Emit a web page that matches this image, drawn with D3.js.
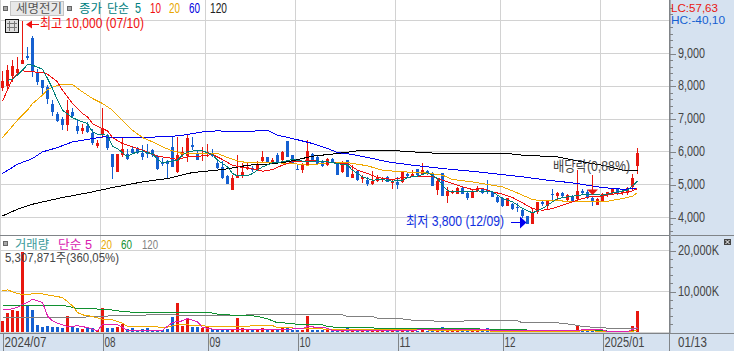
<!DOCTYPE html>
<html><head><meta charset="utf-8">
<script src="https://cdn.jsdelivr.net/npm/d3@7/dist/d3.min.js"></script>
<style>
html,body{margin:0;padding:0;background:#fff}
svg{display:block}
text{font-family:"Liberation Sans","Noto Sans CJK KR",sans-serif;font-size:14px}
</style></head><body>
<svg id="c" width="734" height="351"></svg>
<script>
const opens=[7960,8030,8310,8410,8690,8920,9480,8440,8190,7980,7450,7170,6990,6810,7220,6790,6660,6790,6580,6180,6530,6510,5930,5390,5930,5930,6080,6130,5980,6000,6050,5880,5650,5730,6150,5390,5900,5850,6220,5980,5870,5930,5980,5670,5540,5270,4830,5210,5260,
5480,5520,5490,5730,5830,5680,5920,5770,6330,5900,5490,
5440,5600,5930,5850,5720,5600,5770,5650,5390,5750,
5220,5420,5160,5140,5040,5090,5120,5240,5070,5070,
5060,5340,5290,5470,5310,5420,5340,4850,5370,4650,
4740,4730,4900,4750,4600,4800,4880,4830,4780,4610,
4580,4350,4410,4330,4220,4040,3800,4140,4480,4360,
4710,4650,4760,4530,4670,4550,4810,4780,4580,4380,
4530,4710,4750,4860,4750,4750,4910,5580];
const closes=[8160,8510,8610,8520,8800,8850,8440,8140,7960,7610,7220,6970,6810,7270,7100,6630,6740,6610,6260,6280,6710,6100,5520,5930,6100,5780,5970,5980,5850,5930,5890,5490,5610,5650,5540,5900,6000,6410,6170,5780,5900,6000,5880,5520,5210,5040,5190,5290,5390,
5540,5460,5630,5850,5680,5750,5700,6000,5850,5630,5460,
5630,6020,5750,5630,5580,5770,5670,5290,5680,5240,
5340,5140,5220,5020,5120,5190,5190,5090,5090,4970,
5410,5290,5340,5290,5460,5340,4970,5120,4680,4810,
4800,4900,4730,4600,4800,4900,4760,4760,4630,4460,
4350,4580,4270,4290,4050,3800,4170,4460,4410,4510,
4680,4750,4660,4680,4530,4800,4750,4600,4480,4560,
4730,4770,4860,4710,4810,4910,5190,5980];
const highs=[8460,8640,8800,8900,10000,9200,9530,8540,8190,8030,7580,7220,7070,7580,7350,7000,6860,6920,6710,6360,7350,6560,5930,5930,6440,6100,6150,6150,6200,6230,6100,5900,5800,5750,6480,6460,6150,6540,6460,6050,6150,6230,6100,5720,5730,5290,5290,5900,5650,
5670,5580,5730,6020,5830,5800,5970,6030,6330,5900,5600,
5670,6360,5970,5900,5750,5800,5820,5670,5720,5750,
5600,5440,5290,5220,5420,5290,5240,5260,5160,5220,
5410,5390,5440,5490,5650,5460,5390,5160,5370,4930,
4850,4930,4930,4780,4830,4950,4900,5140,4800,4680,
4610,4580,4450,4430,4270,4040,4270,4480,4530,4530,
4860,4780,4780,4710,4690,5440,4860,4830,4630,4580,
4750,4780,4880,4880,4850,4930,5340,6130];
const lows=[7860,7880,8130,8340,8690,8800,8290,8030,7750,7470,7090,6920,6680,6640,7020,6560,6540,6580,6200,6120,6410,6050,5170,5390,5850,5750,5950,5950,5750,5800,5850,5460,5560,5190,5540,5360,5850,5700,6050,5750,5730,5850,5850,5490,5170,5020,4830,5190,5190,
5440,5390,5420,5650,5670,5650,5680,5700,5850,5620,5440,
5360,5600,5730,5620,5540,5560,5650,5290,5370,5220,
5190,5120,5040,4970,4990,5070,5070,5070,4880,4880,
5040,5220,5220,5260,5290,5310,4960,4700,4680,4450,
4730,4710,4710,4530,4580,4780,4730,4710,4610,4430,
4330,4350,4220,4170,3970,3800,3800,4100,4350,4270,
4530,4530,4610,4480,4460,4530,4680,4560,4350,4380,
4500,4610,4730,4700,4680,4680,4830,5340];
const volumes=[2683,4878,5528,5285,19756,6504,5528,1870,1382,1626,1463,1220,976,4065,1220,976,732,976,976,569,6016,976,976,1220,2033,813,1057,569,894,976,650,650,650,813,3659,7317,1626,3577,1463,1220,976,1545,813,813,894,650,813,3415,1138,
650,488,732,1138,650,488,650,1057,1138,650,569,650,4146,650,488,488,650,488,488,488,976,488,488,488,407,488,407,325,325,325,325,488,325,325,325,650,325,325,325,1463,325,325,325,325,325,325,325,325,976,
250,250,250,250,250,250,250,250,250,250,250,250,250,250,250,250,250,1950,250,250,250,250,250,250,250,250,250,250,1700,5308];

const ma5At=[1,2,4,5,6,8,9,10,11,12,14,16,17,18,19,21,22,23,25,26,28,29,30,31,32,33,35,36,37,39,40,42,43,45,46,47,49,50,52,54,56,58,61,63,65,67,69,70,72,74,76,78,80,81,83,85,87,88,89,91,94,95,97,98,100,102,104,106,108,110,111,114,117,120,123,125,127];
const ma5=[8186,8206,8491,8664,8643,8521,8237,7932,7576,7271,7040,6915,6864,6610,6539,6509,6173,6102,5848,5950,6031,5970,5950,5767,5665,5696,5747,5899,6001,6051,6031,5919,5747,5543,5340,5269,5270,5341,5544,5666,5697,5768,5697,5727,5697,5646,5595,5442,5239,5138,5158,5107,5138,5219,5260,5371,5188,4985,4812,4782,4782,4812,4782,4782,4579,4477,4274,4142,4274,4477,4579,4650,4711,4680,4782,4833,5107];
const ma10At=[0,1,2,3,4,6,8,9,11,12,14,16,17,18,19,21,22,24,26,28,31,33,35,37,40,42,44,46,48,49,52,54,56,58,61,63,66,69,71,73,75,78,80,82,84,86,88,90,92,94,96,98,100,102,104,106,108,110,112,114,116,118,120,122,124,126,127];
const ma10=[7556,7881,8237,8389,8470,8440,8420,8369,8135,7881,7474,7170,7068,6864,6783,6641,6438,6255,6153,6051,5868,5828,5767,5848,5878,5919,5767,5594,5523,5514,5412,5463,5595,5697,5727,5727,5666,5646,5442,5341,5219,5158,5219,5239,5260,5260,5138,5036,4934,4853,4884,4782,4711,4609,4447,4274,4223,4274,4375,4477,4579,4650,4650,4711,4751,4812,4884];
const ma20At=[0,1,3,5,6,8,9,11,12,14,16,18,20,22,24,26,28,30,32,34,36,38,41,43,45,47,48,49,52,55,58,61,65,69,73,76,80,84,88,90,94,98,100,102,104,106,108,111,115,118,121,124,126,127];
const ma20=[6438,6610,6966,7271,7474,7729,7901,8033,8064,8054,7830,7627,7474,7271,6966,6661,6438,6306,6153,6031,5950,5950,5950,5950,5828,5726,5696,5676,5676,5666,5646,5595,5666,5676,5575,5442,5392,5371,5290,5158,5087,4985,4934,4812,4680,4548,4508,4508,4487,4477,4497,4579,4650,4762];
const ma60At=[0,3,6,8,11,14,17,20,24,28,34,36,40,43,48,53,55,58,62,65,67,70,74,77,82,88,95,98,104,109,114,120,124,127];
const ma60=[5340,5625,5797,6000,6133,6306,6377,6458,6438,6438,6478,6509,6610,6641,6610,6662,6510,6408,6256,6103,5981,5920,5798,5697,5595,5493,5392,5341,5239,5138,5056,4914,4863,4884];
const ma120At=[0,3,6,12,17,22,28,33,38,44,48,49,53,57,62,67,71,77,84,88,98,101,104,111,116,120,124,127];
const ma120=[4049,4252,4405,4608,4751,4913,5086,5188,5371,5462,5564,5595,5625,5697,5869,5951,6032,6052,5981,5951,5951,5951,5900,5849,5697,5595,5442,5442];

const vma5At=[0,1,3,4,5,6,8,9,10,11,13,15,17,19,20,23,24,25,32,34,36,37,39,40,42,48,56,60,61,65,66,80,84,88,97,98,115,116,120,121,125,127];
const vma5=[5528,5528,6098,6911,7317,8130,7317,4065,2846,2276,1463,1626,1220,407,1951,1951,1220,569,569,2439,2846,3415,2602,1220,813,813,813,894,1463,1057,488,488,650,650,732,488,488,650,650,244,244,1220];
const vma20At=[0,1,2,4,6,8,10,12,14,15,16,18,20,22,24,25,29,33,35,38,41,44,48,54,55,61,66,81,97,98,114,116,126,127];
const vma20=[10162,10406,9919,9187,9431,9431,8943,8536,6504,4878,4309,3902,3252,3089,2276,1463,1382,1301,1951,1789,1545,1382,1545,1707,1138,1057,732,650,488,244,244,407,244,650];
const vma60At=[0,1,4,8,12,15,20,23,24,33,41,43,48,49,51,53,55,58,59,64,65,68,80,95,98,111,112,114,115,120,121,126,127];
const vma60=[6748,6504,6504,6667,6667,5854,5691,5366,5041,4797,4959,4472,4065,4228,3902,3333,2358,2276,1870,1870,1463,1138,1057,894,650,569,325,325,569,569,325,325,650];
const vma120At=[0,16,20,30,48,49,68,69,74,75,77,80,81,87,98,103,104,111,114,116,120,124,127];
const vma120=[3740,3740,3984,4309,4146,4309,4309,3902,3902,3496,3333,3333,3089,2764,2846,2846,2358,2358,1951,1463,1138,894,894];

const priceTicks=[4000,5000,6000,7000,8000,9000,10000];
const volumeTicks=[10000,20000];
const monthAt=[0,20,41,59,79,100,120];
const monthLabels=["2024/07","08","09","10","11","12","2025/01"];
const slots=d3.range(134);
const lastDate="01/13";

const svg=d3.select("#c");
const W=669,BG="#d6e2f0",GRID="#d2d2d2",AX="#808488",TXT="#444";
const RED="#e8170f",BLUE="#1560d0";
const x=d3.scaleBand().domain(slots).range([0,670]);
const px=i=>x(i)+2.5;
const y=d3.scaleLinear().domain([4000,9000]).range([217.5,53.5]);
const yv=d3.scaleLinear().domain([0,20000]).range([332.5,250.5]);

svg.append("rect").attr("x",670).attr("y",0).attr("width",64).attr("height",351).attr("fill",BG);
svg.append("rect").attr("x",0).attr("y",334).attr("width",734).attr("height",17).attr("fill",BG);

const defs=svg.append("defs");
defs.append("clipPath").attr("id","p1").append("rect").attr("width",669).attr("height",235);
defs.append("clipPath").attr("id","p2").append("rect").attr("y",236).attr("width",669).attr("height",97);

const grid=svg.append("g").attr("stroke",GRID).attr("shape-rendering","crispEdges");
priceTicks.forEach(v=>grid.append("line").attr("x1",0).attr("x2",W).attr("y1",Math.floor(y(v))+.5).attr("y2",Math.floor(y(v))+.5));
[...volumeTicks,0].forEach(v=>grid.append("line").attr("x1",0).attr("x2",W).attr("y1",Math.floor(yv(v))+.5).attr("y2",Math.floor(yv(v))+.5));
monthAt.forEach(i=>grid.append("line").attr("x1",x(i)+.5).attr("x2",x(i)+.5).attr("y1",0).attr("y2",333));

const pane1=svg.append("g").attr("clip-path","url(#p1)");
const pane2=svg.append("g").attr("clip-path","url(#p2)");
const isUp=i=>closes[i]>=opens[i];
const col=i=>isUp(i)?RED:BLUE;

pane1.append("g").selectAll("line").data(slots.slice(0,opens.length)).join("line")
 .attr("x1",px).attr("x2",px).attr("y1",i=>y(highs[i])).attr("y2",i=>y(lows[i]))
 .attr("stroke",col).attr("shape-rendering","crispEdges");
pane1.append("g").selectAll("rect").data(slots.slice(0,opens.length)).join("rect")
 .attr("x",i=>x(i)+1).attr("width",3)
 .attr("y",i=>Math.round(y(Math.max(opens[i],closes[i]))))
 .attr("height",i=>Math.max(1,Math.round(Math.abs(y(opens[i])-y(closes[i])))))
 .attr("fill",col).attr("shape-rendering","crispEdges");

function maLine(g,scale,at,vals,color,w){
  const ln=d3.line().x((d,k)=>px(at[k])).y(d=>scale(d));
  g.append("path").attr("d",ln(vals)).attr("fill","none").attr("stroke",color).attr("stroke-width",w||1).attr("shape-rendering","crispEdges");
}
maLine(pane1,y,ma120At,ma120,"#000");
maLine(pane1,y,ma60At,ma60,"#0000f0");
maLine(pane1,y,ma20At,ma20,"#f0a800");
maLine(pane1,y,ma10At,ma10,"#f01010");
maLine(pane1,y,ma5At,ma5,"#008078");

pane2.append("g").selectAll("rect").data(slots.slice(0,volumes.length)).join("rect")
 .attr("x",i=>x(i)+1).attr("width",3)
 .attr("y",i=>Math.round(yv(volumes[i])))
 .attr("height",i=>Math.max(1,332-Math.round(yv(volumes[i]))))
 .attr("fill",col).attr("shape-rendering","crispEdges");
maLine(pane2,yv,vma120At,vma120,"#808080");
maLine(pane2,yv,vma60At,vma60,"#109030");
maLine(pane2,yv,vma20At,vma20,"#f0a800");
maLine(pane2,yv,vma5At,vma5,"#e020b0");

// frame lines
const fr=svg.append("g").attr("stroke",AX).attr("shape-rendering","crispEdges");
fr.append("line").attr("x1",0).attr("x2",734).attr("y1",235.5).attr("y2",235.5);
fr.append("line").attr("x1",0).attr("x2",734).attr("y1",333.5).attr("y2",333.5);
fr.append("line").attr("x1",669.5).attr("x2",669.5).attr("y1",0).attr("y2",351).attr("stroke-width",1);
fr.append("line").attr("x1",670.5).attr("x2",670.5).attr("y1",0).attr("y2",333).attr("stroke","#a8adb4");

// axes
const fit=(s,w)=>s.attr("textLength",w).attr("lengthAdjust","spacingAndGlyphs");
function styleAxis(g){g.select(".domain").remove();g.selectAll("line").attr("stroke",AX).attr("shape-rendering","crispEdges");}
const minor=d3.range(3600,10600,200).filter(v=>v%1000);
svg.append("g").attr("transform","translate(670,0)").call(d3.axisRight(y).tickValues(minor).tickSize(2.5).tickFormat("")).call(styleAxis);
svg.append("g").attr("transform","translate(670,0)").call(d3.axisRight(y).tickValues(priceTicks.filter(v=>v<10000)).tickSize(6).tickPadding(2).tickFormat(d3.format(","))).call(styleAxis)
 .call(g=>fit(g.selectAll("text").attr("fill",TXT).attr("dy","3.6px"),27));
svg.append("g").attr("transform","translate(670,0)").call(d3.axisRight(yv).tickValues(d3.range(2000,24000,2000).filter(v=>v%10000)).tickSize(2.5).tickFormat("")).call(styleAxis);
svg.append("g").attr("transform","translate(670,0)").call(d3.axisRight(yv).tickValues(volumeTicks).tickSize(6).tickPadding(2).tickFormat(v=>d3.format(",")(v)+"K")).call(styleAxis)
 .call(g=>fit(g.selectAll("text").attr("fill",TXT).attr("dy","3.6px"),41));
const monthWidths=[42,11,11,11,11,11,40];
svg.append("g").attr("transform","translate(0,334)").call(d3.axisBottom(x).tickValues(monthAt).tickSize(17).tickPadding(-15).tickFormat((d,k)=>monthLabels[k]))
 .call(g=>{g.select(".domain").remove();
   g.selectAll("line").attr("stroke",AX).attr("shape-rendering","crispEdges").attr("x1",.5).attr("x2",.5);
   g.selectAll("text").attr("fill",TXT).attr("text-anchor","start").attr("x",2).attr("dy",0).attr("y",13)
    .each(function(d,k){d3.select(this).attr("textLength",monthWidths[k]).attr("lengthAdjust","spacingAndGlyphs");});});

function label(t,x0,y0,c,size,w){const s=svg.append("text").attr("x",x0).attr("y",y0).attr("fill",c).style("font-size",(size||14)+"px").text(t);if(w)fit(s,w);return s;}
label(lastDate,678,347,TXT,14,29);
label("LC:57,63",671,11.5,RED,11,47);
label("HC:-40,10",671,24,BLUE,11,54);

// header row
function sq(x0,y0){svg.append("rect").attr("x",x0+.5).attr("y",y0+.5).attr("width",4).attr("height",4).attr("fill","#a8a8a8").attr("stroke","#666").attr("shape-rendering","crispEdges");}
sq(3,6);sq(67,6);
svg.append("rect").attr("x",10.5).attr("y",1.5).attr("width",53).attr("height",14).attr("fill","#e8e8e8").attr("stroke","#c4c4c4").attr("shape-rendering","crispEdges");
label("세명전기",16,13,"#555",12,46);
label("종가",79,13,"#008080",12,23);
label("단순",107,13,"#008080",12,22);
label("5",135,13,"#008080",14,6);
label("10",150,13,"#f01010",14,11);
label("20",169,13,"#e8a800",14,11);
label("60",189,13,"#0000e0",14,11);
label("120",210,13,"#222",14,17);

// grid icon
const ic=svg.append("g").attr("shape-rendering","crispEdges");
ic.append("rect").attr("x",5.5).attr("y",19.5).attr("width",13).attr("height",13).attr("fill","#ddd").attr("stroke","#111");
[9.5,14.5].forEach(v=>ic.append("line").attr("x1",v).attr("x2",v).attr("y1",21).attr("y2",31).attr("stroke","#777"));
[23.5,27.5].forEach(v=>ic.append("line").attr("x1",7).attr("x2",17).attr("y1",v).attr("y2",v).attr("stroke","#777"));

// high marker
svg.append("path").attr("d","M26 24.5L32 20.5V28.5Z").attr("fill","#f01010");
svg.append("line").attr("x1",31).attr("x2",39).attr("y1",24.5).attr("y2",24.5).attr("stroke","#f01010").attr("shape-rendering","crispEdges");
label("최고 10,000 (07/10)",40,28,"#f01010",14,104);

// low marker
label("최저 3,800 (12/09)",406,226,"#1030e0",14,98);
svg.append("line").attr("x1",511).attr("x2",521).attr("y1",222.5).attr("y2",222.5).attr("stroke","#0000f0").attr("shape-rendering","crispEdges");
svg.append("path").attr("d","M526.5 222.5L520 216.5V228.5Z").attr("fill","#0000f0");

// dividend marker
label("배당락(0,88%)",553,171,"#444",14,77);
svg.append("line").attr("x1",px(118)).attr("x2",px(118)).attr("y1",175).attr("y2",190).attr("stroke",RED).attr("shape-rendering","crispEdges");
svg.append("path").attr("d","M587 189.5H598L592.5 195Z").attr("fill",RED);

// volume header
sq(3,241);
label("거래량",15,248.5,"#3a9a9a",12,34);
label("단순 5",58,248.5,"#d820b0",12,34);
label("20",101,248.5,"#e8a800",12,11);
label("60",121,248.5,"#109030",12,11);
label("120",142,248.5,"#808080",12,16);
label("5,307,871주(360,05%)",5,262,"#444",12,114);

// corner icon
svg.append("rect").attr("x",724).attr("y",239).attr("width",7).attr("height",6).attr("fill","#444").attr("shape-rendering","crispEdges");
svg.append("path").attr("d","M725.5 240L729.5 244M729.5 240L725.5 244").attr("stroke","#fff").attr("stroke-width",1);
</script>
</body></html>
